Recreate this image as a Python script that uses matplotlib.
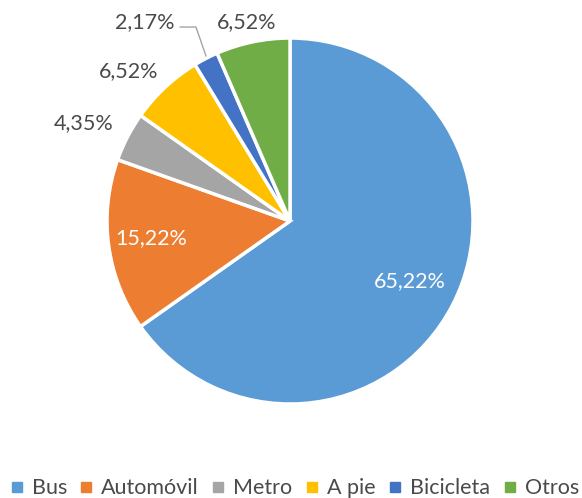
import matplotlib
matplotlib.use("Agg")
import matplotlib.pyplot as plt
from matplotlib.lines import Line2D

# datos (porcentaje de viajes por modo)
modos = ["Bus", "Automóvil", "Metro", "A pie", "Bicicleta", "Otros"]
valores = [65.22, 15.22, 4.35, 6.52, 2.17, 6.52]
colores = ["#5B9BD5", "#ED7D31", "#A5A5A5", "#FFC000", "#4472C4", "#70AD47"]

# posiciones de etiquetas (en unidades del radio)
pos_etiq = [(0.656, -0.328), (-0.760, -0.093), (-1.126, 0.536),
            (-0.880, 0.820), (-0.792, 1.087), (-0.235, 1.087)]
blancas = [True, True, False, False, False, False]

plt.rcParams["font.family"] = ["Lato", "DejaVu Sans"]

fig = plt.figure(figsize=(5.82, 4.98), dpi=100)
ax = fig.add_axes([0.1524, 0.152, 0.6918, 0.8084])

ax.pie(valores, colors=colores, startangle=90, counterclock=False,
       wedgeprops=dict(edgecolor="white", linewidth=2.5), radius=1)
ax.set_xlim(-1.1, 1.1)
ax.set_ylim(-1.1, 1.1)
ax.set_aspect("equal")
ax.axis("off")

for v, (x, y), b in zip(valores, pos_etiq, blancas):
    txt = f"{v:.2f}%".replace(".", ",")
    ax.text(x, y, txt, ha="center", va="center", fontsize=15.5,
            color="white" if b else "#4a4a4a", clip_on=False)

# linea guia de Bicicleta
ax.plot([-0.600, -0.514, -0.459], [1.060, 1.060, 0.902], color="#A5A5A5",
        lw=1, clip_on=False)

handles = [Line2D([], [], marker="s", ls="", color=c, markersize=6.5) for c in colores]
fig.legend(handles, modos, loc="center", ncol=6, frameon=False,
           fontsize=15.5, handletextpad=0.35, columnspacing=0.55, handlelength=0.7,
           bbox_to_anchor=(0.505, 0.02), labelcolor="#4a4a4a")

fig.savefig("out.png", dpi=100)
